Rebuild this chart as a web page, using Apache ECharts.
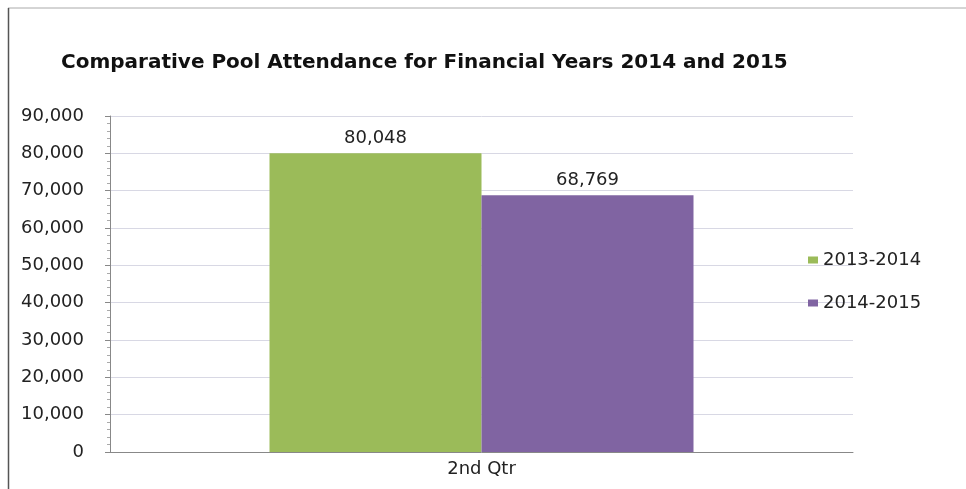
<!DOCTYPE html>
<html><head><meta charset="utf-8">
<script src="https://cdn.jsdelivr.net/npm/echarts@6/dist/echarts.min.js"></script>
<style>html,body{margin:0;padding:0;background:#fff}#c{width:966px;height:489px}</style>
</head><body><div id="c"></div>
<script>
const title = 'Comparative Pool Attendance for Financial Years 2014 and 2015';
const categories = ['2nd Qtr'];
const seriesNames = ['2013-2014', '2014-2015'];
const values2013_2014 = [80048];
const values2014_2015 = [68769];
const yTicks = [0, 10000, 20000, 30000, 40000, 50000, 60000, 70000, 80000, 90000];
const colors = ['#9BBB59', '#8064A2'];

const fmt = v => v.toLocaleString('en-US');
const chart = echarts.init(document.getElementById('c'));
chart.setOption({
  animation: false,
  backgroundColor: '#fff',
  title: {
    text: title, left: 56, top: 48,
    textStyle: { fontFamily: 'DejaVu Sans', fontWeight: 'bold', fontSize: 20, color: '#111' }
  },
  legend: {
    orient: 'vertical', left: 803, top: 246, itemGap: 25,
    itemWidth: 10, itemHeight: 7, icon: 'rect',
    data: seriesNames,
    textStyle: { fontFamily: 'DejaVu Sans', fontSize: 18, color: '#222' }
  },
  grid: { left: 110, right: 113, top: 116, bottom: 37 },
  xAxis: {
    type: 'category', data: categories,
    axisLine: { lineStyle: { color: '#888' } },
    axisTick: { show: false },
    axisLabel: { fontFamily: 'DejaVu Sans', fontSize: 18, color: '#222', margin: 8 }
  },
  yAxis: {
    type: 'value', min: yTicks[0], max: yTicks[yTicks.length - 1], interval: yTicks[1] - yTicks[0],
    axisLine: { show: true, lineStyle: { color: '#888' } },
    axisTick: { show: true, length: 5, lineStyle: { color: '#888' } },
    minorTick: { show: true, splitNumber: 5, length: 3, lineStyle: { color: '#aaa' } },
    splitLine: { lineStyle: { color: '#d8d8e4' } },
    axisLabel: { fontFamily: 'DejaVu Sans', fontSize: 18, color: '#222', margin: 26, formatter: fmt }
  },
  series: [
    { name: seriesNames[0], type: 'bar', data: values2013_2014, barWidth: 212, barGap: '0%',
      itemStyle: { color: colors[0] },
      label: { show: true, position: 'top', distance: 6, formatter: p => fmt(p.value),
               fontFamily: 'DejaVu Sans', fontSize: 18, color: '#222' } },
    { name: seriesNames[1], type: 'bar', data: values2014_2015, barWidth: 212, barGap: '0%',
      itemStyle: { color: colors[1] },
      label: { show: true, position: 'top', distance: 6, formatter: p => fmt(p.value),
               fontFamily: 'DejaVu Sans', fontSize: 18, color: '#222' } }
  ],
  graphic: [
    { type: 'line', shape: { x1: 8, y1: 8, x2: 966, y2: 8 }, style: { stroke: '#aaa', lineWidth: 1 } },
    { type: 'line', shape: { x1: 8.5, y1: 8, x2: 8.5, y2: 489 }, style: { stroke: '#555', lineWidth: 1.5 } }
  ]
});
</script></body></html>
